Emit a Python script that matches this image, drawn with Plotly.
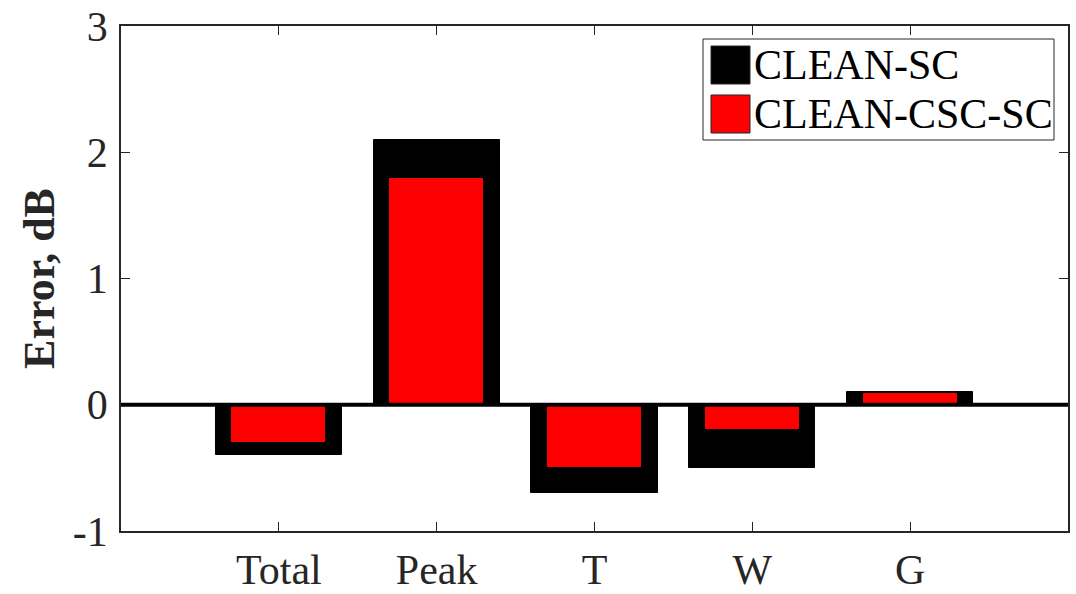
import plotly.graph_objects as go

categories = ["Total", "Peak", "T", "W", "G"]
positions = [1, 2, 3, 4, 5]
clean_sc = [-0.4, 2.1, -0.7, -0.5, 0.1]
clean_csc_sc = [-0.3, 1.8, -0.5, -0.2, 0.09]
series_names = ["CLEAN-SC", "CLEAN-CSC-SC"]
series_colors = ["#000000", "#ff0000"]
y_ticks = [-1, 0, 1, 2, 3]

FONT = "Liberation Serif, Times New Roman, serif"
W, H = 1076, 594
L, R, T, B = 121, 8, 26, 63
PW, PH = W - L - R, H - T - B


def px(x):
    return (x - L) / PW


def py(y):
    return (H - B - y) / PH


fig = go.Figure()
fig.add_trace(go.Bar(x=positions, y=clean_sc, width=0.8, name=series_names[0],
                     marker=dict(color=series_colors[0], line=dict(color="#000000", width=1)),
                     showlegend=False))
fig.add_trace(go.Bar(x=positions, y=clean_csc_sc, width=0.6, name=series_names[1],
                     marker=dict(color=series_colors[1], line=dict(color="#000000", width=1)),
                     showlegend=False))

shapes = [
    dict(type="line", xref="paper", yref="y", x0=0, x1=1, y0=0, y1=0,
         line=dict(color="#000000", width=4), layer="above"),
    # legend box
    dict(type="rect", xref="paper", yref="paper", x0=px(703), x1=px(1054), y0=py(140), y1=py(39),
         line=dict(color="#262626", width=1), fillcolor="#ffffff", layer="above"),
]
annotations = []
rows = [(46, 84), (95, 133)]
for (ya, yb), name, col in zip(rows, series_names, series_colors):
    shapes.append(dict(type="rect", xref="paper", yref="paper", x0=px(711), x1=px(750),
                       y0=py(yb), y1=py(ya), fillcolor=col,
                       line=dict(color="#262626", width=1), layer="above"))
    annotations.append(dict(xref="paper", yref="paper", x=px(752), y=py((ya + yb) / 2),
                            text=name, showarrow=False, xanchor="left", yanchor="middle",
                            font=dict(family=FONT, size=42, color="#000000")))

fig.update_layout(
    width=W, height=H,
    margin=dict(l=L, r=R, t=T, b=B, pad=0, autoexpand=False),
    paper_bgcolor="#ffffff", plot_bgcolor="#ffffff",
    barmode="overlay", bargap=0,
    showlegend=False,
    shapes=shapes, annotations=annotations,
    font=dict(family=FONT, color="#262626"),
)
fig.update_xaxes(range=[0, 6], tickvals=positions, ticktext=categories,
                 ticks="inside", ticklen=9, tickcolor="#262626", tickwidth=1,
                 showline=True, linecolor="#262626", linewidth=1.5, mirror="allticks",
                 showgrid=False, zeroline=False, automargin=False,
                 tickfont=dict(family=FONT, size=42, color="#262626"), ticklabelstandoff=1)
fig.update_yaxes(range=[-1, 3], tickvals=y_ticks, ticktext=[str(v) for v in y_ticks],
                 ticks="inside", ticklen=9, tickcolor="#262626", tickwidth=1,
                 showline=True, linecolor="#262626", linewidth=1.5, mirror="allticks",
                 showgrid=False, zeroline=False, automargin=False,
                 tickfont=dict(family=FONT, size=42, color="#262626"), ticklabelstandoff=3,
                 title=dict(text="<b>Error, dB</b>", standoff=4,
                            font=dict(family=FONT, size=44, color="#262626")))

fig.write_html("out.html", config={"displayModeBar": False},
               post_script="document.body.style.margin='0';document.body.style.overflow='hidden';")
